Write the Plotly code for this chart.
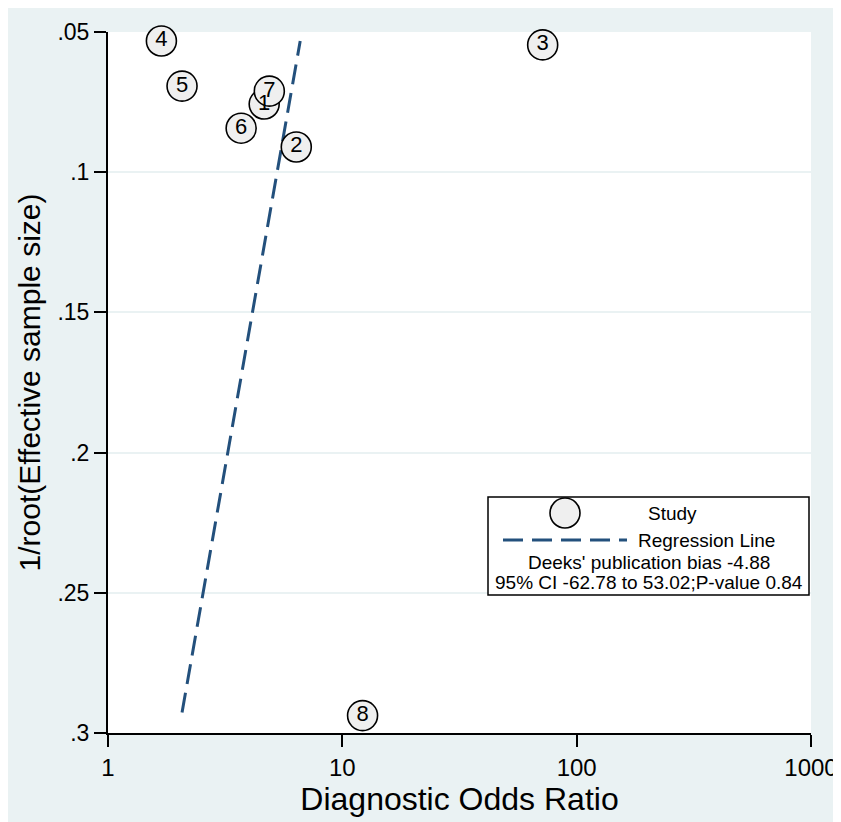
import plotly.graph_objects as go

# ---- data ----
study_ids = ["1", "2", "3", "4", "5", "6", "7", "8"]
dor = [4.64, 6.36, 71.6, 1.69, 2.07, 3.70, 4.88, 12.2]
inv_sqrt_ess = [0.0757, 0.0910, 0.0546, 0.0532, 0.0693, 0.0843, 0.0711, 0.2938]

reg_x = [2.07, 6.61]
reg_y = [0.2927, 0.0532]

y_ticks = [0.05, 0.1, 0.15, 0.2, 0.25, 0.3]
y_ticklabels = [".05", ".1", ".15", ".2", ".25", ".3"]
x_ticks = [1, 10, 100, 1000]
x_ticklabels = ["1", "10", "100", "1000"]

legend_study = "Study"
legend_reg = "Regression Line"
stat_line1 = "Deeks' publication bias -4.88"
stat_line2 = "95% CI -62.78 to 53.02;P-value 0.84"

BG = "#EAF2F3"
LINE_COL = "#23507c"
FONT = "Liberation Sans, Arial, sans-serif"

OFF = 8  # page body margin
W, H = 841, 822
PL, PR, PT, PB = 108, 811, 32, 733  # plot area in window pixels
ML, MT = PL - OFF, PT - OFF
MR, MB = W - (PR - OFF), H - (PB - OFF)
PW, PH = PR - PL, PB - PT


def px(x):
    return (x - PL) / PW


def py(y):
    return (PB - y) / PH


fig = go.Figure()

fig.add_trace(go.Scatter(
    x=reg_x, y=reg_y, mode="lines",
    line=dict(color=LINE_COL, width=3, dash="20px,9px"),
    showlegend=False, hoverinfo="skip",
))

fig.add_trace(go.Scatter(
    x=dor, y=inv_sqrt_ess, mode="markers+text",
    text=study_ids, textposition="middle center",
    textfont=dict(family=FONT, size=22, color="black"),
    marker=dict(size=30, color="#EFEFEF", line=dict(color="black", width=1.6)),
    cliponaxis=False, showlegend=False,
))

shapes = [
    # legend box
    dict(type="rect", xref="paper", yref="paper", x0=px(488), x1=px(809), y0=py(595), y1=py(497),
         fillcolor="white", line=dict(color="black", width=1.5), layer="above"),
    # legend glyph: circle
    dict(type="circle", xref="paper", yref="paper", x0=px(550), x1=px(580), y0=py(528), y1=py(498),
         fillcolor="#EFEFEF", line=dict(color="black", width=1.6), layer="above"),
    # legend glyph: dashed line
    dict(type="line", xref="paper", yref="paper", x0=px(503), x1=px(627), y0=py(540), y1=py(540),
         line=dict(color=LINE_COL, width=3, dash="20px,9px"), layer="above"),
]

LFS = 19
annotations = [
    dict(text=legend_study, xref="paper", yref="paper", x=px(646), y=py(513),
         xanchor="left", yanchor="middle", showarrow=False,
         font=dict(family=FONT, size=LFS, color="black")),
    dict(text=legend_reg, xref="paper", yref="paper", x=px(636), y=py(540),
         xanchor="left", yanchor="middle", showarrow=False,
         font=dict(family=FONT, size=LFS, color="black")),
    dict(text=stat_line1, xref="paper", yref="paper", x=px(649), y=py(562),
         xanchor="center", yanchor="middle", showarrow=False,
         font=dict(family=FONT, size=LFS, color="black")),
    dict(text=stat_line2, xref="paper", yref="paper", x=px(649), y=py(582),
         xanchor="center", yanchor="middle", showarrow=False,
         font=dict(family=FONT, size=LFS, color="black")),
]

fig.update_layout(
    width=W, height=H,
    margin=dict(l=ML, r=MR, t=MT, b=MB),
    paper_bgcolor=BG, plot_bgcolor="white",
    showlegend=False,
    shapes=shapes, annotations=annotations,
    xaxis=dict(
        type="log", range=[0, 3],
        tickvals=x_ticks, ticktext=x_ticklabels,
        ticks="outside", ticklen=12, tickwidth=2, tickcolor="black",
        showline=True, linecolor="black", linewidth=2,
        showgrid=False, zeroline=False,
        tickfont=dict(family=FONT, size=24, color="black"),
        title=dict(text="Diagnostic Odds Ratio", standoff=2,
                   font=dict(family=FONT, size=32, color="black")),
    ),
    yaxis=dict(
        range=[0.3, 0.05],
        tickvals=y_ticks, ticktext=y_ticklabels,
        ticks="outside", ticklen=12, tickwidth=2, tickcolor="black",
        showline=True, linecolor="black", linewidth=2,
        showgrid=True, gridcolor=BG, gridwidth=2,
        zeroline=False,
        tickfont=dict(family=FONT, size=23, color="black"),
        title=dict(text="1/root(Effective sample size)", standoff=8,
                   font=dict(family=FONT, size=30, color="black")),
    ),
)

fig.write_html("out.html", config={"responsive": False},
               post_script="document.body.style.overflow='hidden';")
